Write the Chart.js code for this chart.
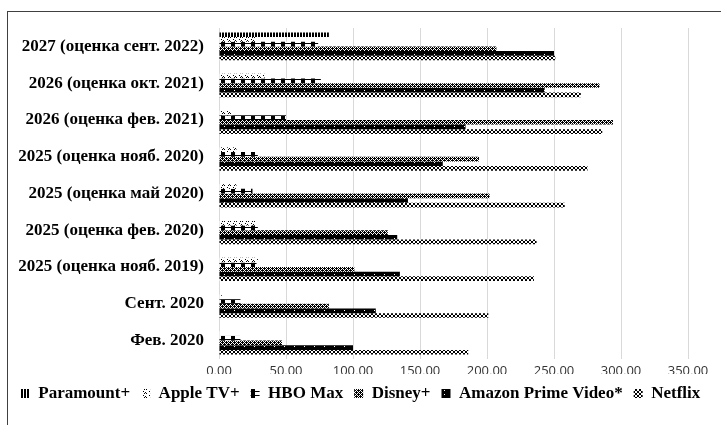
<!DOCTYPE html>
<html>
<head>
<meta charset="utf-8">
<script src="https://cdn.jsdelivr.net/npm/chart.js@4/dist/chart.umd.min.js"></script>
<style>
  html, body { margin: 0; padding: 0; background: #fff; }
  #wrap { width: 721px; height: 425px; position: relative; }
</style>
</head>
<body>
<div id="wrap"><canvas id="c" width="721" height="425"></canvas></div>
<script>
const categories = [
  "2027 (оценка сент. 2022)",
  "2026 (оценка окт. 2021)",
  "2026 (оценка фев. 2021)",
  "2025 (оценка нояб. 2020)",
  "2025 (оценка май 2020)",
  "2025 (оценка фев. 2020)",
  "2025 (оценка нояб. 2019)",
  "Сент. 2020",
  "Фев. 2020"
];
const seriesNames = ["Paramount+", "Apple TV+", "HBO Max", "Disney+", "Amazon Prime Video*", "Netflix"];
const paramount = [82, 0, 0, 0, 0, 0, 0, 0, 0];
const appleTv   = [28, 34, 10, 13, 13, 27, 29, 2, 1];
const hboMax    = [74, 76, 50, 29, 25, 29, 28, 16, 16];
const disney    = [207, 284, 294, 194, 202, 126, 101, 82, 47];
const amazon    = [250, 243, 184, 167, 141, 133, 135, 117, 100];
const netflix   = [251, 270, 286, 275, 258, 237, 235, 201, 186];
const xTicks = [0, 50, 100, 150, 200, 250, 300, 350];

function makePattern(rows) {
  const h = rows.length, w = rows[0].length;
  const cv = document.createElement('canvas');
  cv.width = w; cv.height = h;
  const cx = cv.getContext('2d');
  cx.fillStyle = '#ffffff';
  cx.fillRect(0, 0, w, h);
  cx.fillStyle = '#000000';
  for (let y = 0; y < h; y++) for (let x = 0; x < w; x++) if (rows[y][x] === '1') cx.fillRect(x, y, 1, 1);
  return document.createElement('canvas').getContext('2d').createPattern(cv, 'repeat');
}

const patterns = [
  makePattern(["110"]),
  makePattern(["010000", "101000", "000000", "000001"]),
  makePattern(["0111100000", "0111100000", "0111100000", "1111111111"]),
  makePattern(["1101", "1010", "0111", "1010"]),
  makePattern(["1111111111", "1111111111", "1111011111", "1111111111"]),
  makePattern(["0110", "1001", "1001", "0110"])
];

const seriesData = [paramount, appleTv, hboMax, disney, amazon, netflix];

const framePlugin = {
  id: 'frame',
  beforeDraw(chart) {
    const ctx = chart.ctx;
    ctx.save();
    ctx.fillStyle = '#ffffff';
    ctx.fillRect(0, 0, chart.width, chart.height);
    ctx.strokeStyle = '#404040';
    ctx.lineWidth = 1;
    ctx.strokeRect(7.5, 11.5, 800, 500);
    ctx.restore();
  }
};

new Chart(document.getElementById('c'), {
  type: 'bar',
  data: {
    labels: categories,
    datasets: seriesNames.map((n, i) => ({
      label: n,
      data: seriesData[i],
      backgroundColor: patterns[i],
      borderWidth: 0,
      categoryPercentage: 0.76,
      barPercentage: 1.0
    }))
  },
  options: {
    indexAxis: 'y',
    responsive: false,
    animation: false,
    devicePixelRatio: 1,
    layout: { padding: { left: 0, right: 0, top: 28, bottom: 13 } },
    scales: {
      x: {
        min: 0, max: 350,
        afterBuildTicks(scale) { scale.ticks = xTicks.map(v => ({ value: v })); },
        afterFit(scale) { scale.height = 15; },
        grid: { color: '#d9d9d9', lineWidth: 1, drawTicks: false },
        border: { display: false },
        ticks: {
          padding: 4,
          color: '#333333',
          font: { family: 'Open Sans', size: 13 },
          callback: v => Number(v).toFixed(2).replace('.', ',')
        }
      },
      y: {
        grid: { display: false, drawTicks: false },
        border: { display: false },
        afterFit(scale) { scale.width = 219; },
        ticks: {
          padding: 15,
          color: '#000000',
          font: { family: 'Liberation Serif', size: 17, weight: 'bold' }
        }
      },
      yRight: {
        type: 'category',
        position: 'right',
        labels: categories,
        grid: { display: false, drawTicks: false },
        border: { display: false },
        ticks: { display: false },
        afterFit(scale) { scale.width = 33; }
      }
    },
    plugins: {
      legend: {
        position: 'bottom',
        labels: {
          boxWidth: 9, boxHeight: 9, padding: 11,
          color: '#000000',
          font: { family: 'Liberation Serif', size: 17, weight: 'bold' }
        }
      },
      tooltip: { enabled: false }
    }
  },
  plugins: [framePlugin]
});
</script>
</body>
</html>
